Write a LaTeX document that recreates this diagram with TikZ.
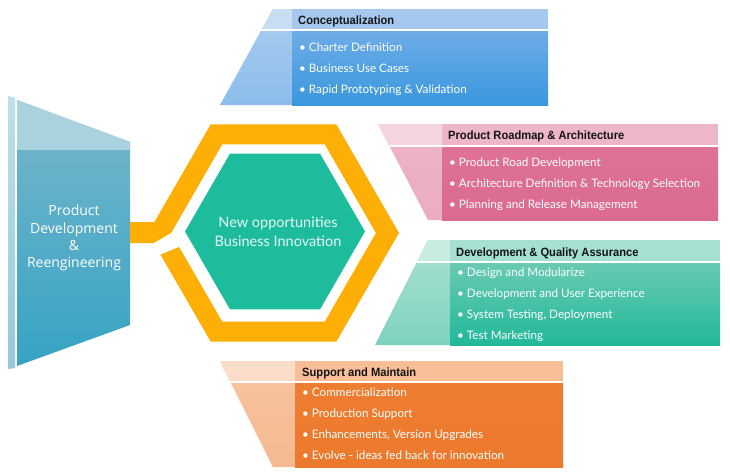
\documentclass[tikz,border=0pt]{standalone}
\usepackage{fontspec}
\setmainfont{Lato}
\newfontfamily\hdfont{Liberation Sans}[FakeStretch=0.93]
\newfontfamily\blfont{Lato}
\newfontfamily\lfont{Open Sans}
\newfontfamily\cfont{Lato}
\definecolor{ringor}{RGB}{253,175,5}
\definecolor{hexgr}{RGB}{29,188,156}
\definecolor{ltop}{RGB}{170,210,222}
\definecolor{lbodyt}{RGB}{120,183,203}
\definecolor{lbodyb}{RGB}{54,163,195}
\definecolor{lstrip}{RGB}{150,200,218}
\definecolor{lstriptop}{RGB}{190,224,233}
\definecolor{hdtext}{RGB}{20,20,20}
% box 1
\definecolor{ah}{RGB}{165,201,238}
\definecolor{abt}{RGB}{110,173,231}
\definecolor{abb}{RGB}{58,151,221}
\definecolor{awu}{RGB}{198,221,242}
\definecolor{awt}{RGB}{170,205,240}
\definecolor{awb}{RGB}{140,189,235}
% box 2
\definecolor{bh}{RGB}{238,182,201}
\definecolor{bbt}{RGB}{222,114,150}
\definecolor{bbb}{RGB}{219,106,144}
\definecolor{bwu}{RGB}{245,213,224}
\definecolor{bwt}{RGB}{237,180,199}
\definecolor{bwb}{RGB}{234,172,193}
% box 3
\definecolor{ch}{RGB}{165,224,210}
\definecolor{cbt}{RGB}{106,202,180}
\definecolor{cbb}{RGB}{34,184,153}
\definecolor{cwu}{RGB}{200,235,226}
\definecolor{cwt}{RGB}{172,224,211}
\definecolor{cwb}{RGB}{125,211,191}
% box 4
\definecolor{dh}{RGB}{247,190,152}
\definecolor{dbt}{RGB}{237,125,49}
\definecolor{dbb}{RGB}{236,122,45}
\definecolor{dwu}{RGB}{250,221,201}
\definecolor{dwt}{RGB}{247,196,161}
\definecolor{dwb}{RGB}{245,185,145}
\tikzset{
  hd/.style={anchor=base west, inner sep=0pt, font=\hdfont\bfseries\fontsize{12}{14}\selectfont, text=hdtext},
  bl/.style={anchor=base west, inner sep=0pt, font=\blfont\fontsize{11.7}{13}\selectfont, text=white},
  sep/.style={draw=white, line width=1.3pt},
}
\begin{document}
\begin{tikzpicture}[x=1pt,y=-1pt]
\useasboundingbox (0,0) rectangle (730,472);
\fill[white] (0,0) rectangle (730,472);

% ---------- left trapezoid ----------
\shade[top color=lstriptop, bottom color=lstrip] (8,96) -- (15,97.5) -- (15,368) -- (8,369) -- cycle;
\shade[top color=lbodyt, bottom color=lbodyb] (17,100) -- (130,142) -- (130,325) -- (17,366) -- cycle;
\begin{scope}
  \clip (17,100) -- (130,142) -- (130,325) -- (17,366) -- cycle;
  \fill[ltop] (0,0) rectangle (140,150);
\end{scope}
\node[align=center, text=white, font=\lfont\fontsize{14}{17.2}\selectfont, inner sep=0pt] (pdr) at (74,238) {Product\\Development\\\&\\Reengineering};

% ---------- orange ring with connector ----------
\fill[ringor] (130,222) -- (154.4,222) -- (210.75,124.3) -- (336.25,124.3) -- (399,233)
  -- (336.25,341.7) -- (210.75,341.7) -- (160.5,254.7) -- (179.1,246.9)
  -- (222.3,321.7) -- (324.7,321.7) -- (375.9,233) -- (324.7,144.3) -- (222.3,144.3)
  -- (171.1,233) -- (153.8,243) -- (130,243) -- cycle;

% ---------- central hexagon ----------
\fill[hexgr] (185,231.5) -- (230,153.6) -- (320,153.6) -- (365,231.5) -- (320,309.4) -- (230,309.4) -- cycle;
\node[align=center, text=white!90!hexgr, font=\cfont\fontsize{14.5}{19}\selectfont, inner sep=0pt] (core) at (278,232) {New opportunities\\Business Innovation};

% ---------- box 1 : Conceptualization ----------
\shade[top color=awt, bottom color=awb] (273,9) -- (292,9) -- (292,105) -- (220,105) -- cycle;
\begin{scope}
  \clip (273,9) -- (292,9) -- (292,105) -- (220,105) -- cycle;
  \fill[awu] (200,0) rectangle (292,30);
\end{scope}
\fill[ah] (292,9) rectangle (548,30);
\shade[top color=abt, bottom color=abb] (292,30) rectangle (548,105);
\draw[sep] (261.4,30) -- (548,30);
\node[hd] (a0) at (298,24) {Conceptualization};
\node[bl] (a1) at (299,51) {• Charter Definition};
\node[bl] (a2) at (299,72) {• Business Use Cases};
\node[bl] (a3) at (299,93) {• Rapid Prototyping \& Validation};

% ---------- box 2 : Product Roadmap ----------
\shade[top color=bwt, bottom color=bwb] (378,124) -- (442,124) -- (442,220) -- (428,220) -- cycle;
\begin{scope}
  \clip (378,124) -- (442,124) -- (442,220) -- (428,220) -- cycle;
  \fill[bwu] (370,115) rectangle (442,146);
\end{scope}
\fill[bh] (442,124) rectangle (718,146);
\shade[top color=bbt, bottom color=bbb] (442,146) rectangle (718,220);
\draw[sep] (389.5,146) -- (718,146);
\node[hd] (b0) at (448,139) {Product Roadmap \& Architecture};
\node[bl] (b1) at (449,166) {• Product Road Development};
\node[bl] (b2) at (449,187) {• Architecture Definition \& Technology Selection};
\node[bl] (b3) at (449,208) {• Planning and Release Management};

% ---------- box 3 : Development & QA ----------
\shade[top color=cwt, bottom color=cwb] (428,240) -- (450,240) -- (450,345) -- (375,345) -- cycle;
\begin{scope}
  \clip (428,240) -- (450,240) -- (450,345) -- (375,345) -- cycle;
  \fill[cwu] (360,230) rectangle (450,262);
\end{scope}
\fill[ch] (450,240) rectangle (720,262);
\shade[top color=cbt, bottom color=cbb] (450,262) rectangle (720,345);
\draw[sep] (416.9,262) -- (720,262);
\node[hd] (c0) at (456,256) {Development \& Quality Assurance};
\node[bl] (c1) at (457,276) {• Design and Modularize};
\node[bl] (c2) at (457,297) {• Development and User Experience};
\node[bl] (c3) at (457,318) {• System Testing, Deployment};
\node[bl] (c4) at (457,339) {• Test Marketing};

% ---------- box 4 : Support and Maintain ----------
\shade[top color=dwt, bottom color=dwb] (220,361) -- (295,361) -- (295,467) -- (273,467) -- cycle;
\begin{scope}
  \clip (220,361) -- (295,361) -- (295,467) -- (273,467) -- cycle;
  \fill[dwu] (210,350) rectangle (295,382);
\end{scope}
\fill[dh] (295,361) rectangle (563,382);
\shade[top color=dbt, bottom color=dbb] (295,382) rectangle (563,467);
\draw[sep] (230.5,382) -- (563,382);
\node[hd] (d0) at (302,376) {Support and Maintain};
\node[bl] (d1) at (302,396) {• Commercialization};
\node[bl] (d2) at (302,417) {• Production Support};
\node[bl] (d3) at (302,438) {• Enhancements, Version Upgrades};
\node[bl] (d4) at (302,459) {• Evolve - ideas fed back for innovation};
\end{tikzpicture}
\end{document}
